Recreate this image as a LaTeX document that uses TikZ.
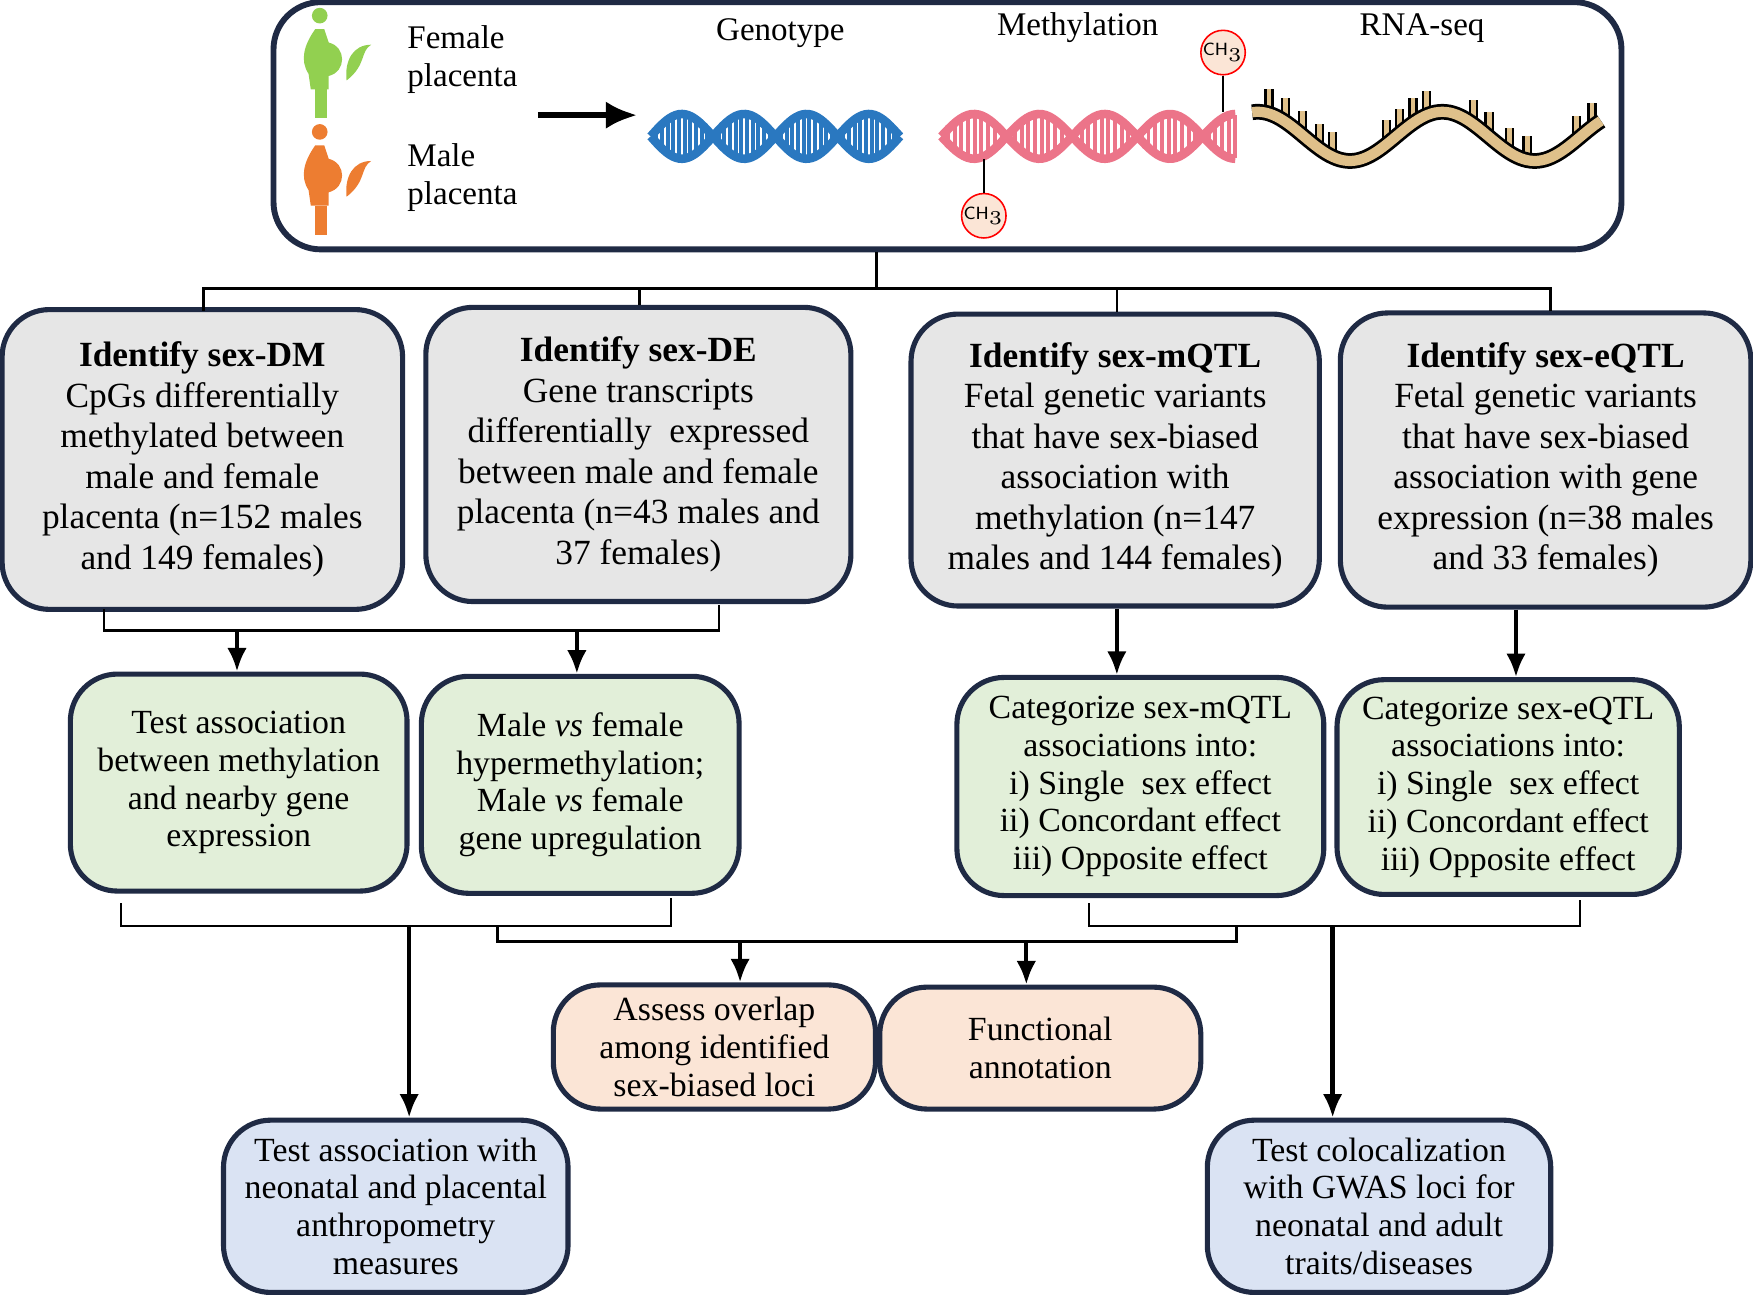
\documentclass[tikz,border=0pt]{standalone}
\usepackage{fontspec}
\setmainfont{Liberation Serif}
\usetikzlibrary{arrows.meta}
\definecolor{navy}{HTML}{1F2A44}
\definecolor{boxgray}{HTML}{E6E6E6}
\definecolor{boxgreen}{HTML}{E2EFD9}
\definecolor{boxorange}{HTML}{FBE5D6}
\definecolor{boxblue}{HTML}{DAE3F3}
\definecolor{dnablue}{HTML}{2A78C0}
\definecolor{dnapink}{HTML}{EC7489}
\definecolor{rnatan}{HTML}{DFC08A}
\definecolor{femgreen}{HTML}{92D050}
\definecolor{malorange}{HTML}{ED7D31}
\tikzset{
  stage/.style={draw=navy, line width=1.3pt, rounded corners=12pt, align=center, inner sep=2pt},
  big/.style={stage, fill=boxgray, font=\fontsize{9}{10.3}\selectfont},
  mid/.style={stage, fill=boxgreen, font=\fontsize{8.6}{9.6}\selectfont},
  low/.style={stage, font=\fontsize{8.6}{9.6}\selectfont},
  label/.style={font=\fontsize{8.4}{9.6}\selectfont},
  link/.style={line width=0.6pt},
  go/.style={line width=1.1pt, -{Latex[length=6pt,width=5pt]}},
}
\newcommand{\helix}[5]{% x0, x1, y, colour, turns in degrees
  \foreach \k in {0,...,44}{
    \pgfmathsetmacro{\xx}{#1+(#2-#1)*\k/44}
    \pgfmathsetmacro{\yy}{19*sin(\k/44*#5)}
    \draw[#4, line width=1pt] (\xx,#3-\yy) -- (\xx,#3+\yy);
  }
  \draw[#4, line width=2.2pt, domain=#1:#2, samples=80] plot (\x,{#3+20*sin((\x-#1)/(#2-#1)*#5)});
  \draw[#4, line width=2.2pt, domain=#1:#2, samples=80] plot (\x,{#3-20*sin((\x-#1)/(#2-#1)*#5)});
}
\newcommand{\mother}[3]{% x, y, colour
  \fill[#3] (#1,#2+8) circle (7);
  \fill[#3] (#1-4,#2+20) .. controls (#1-14,#2+34) and (#1-18,#2+48) .. (#1-10,#2+60)
    -- (#1-8,#2+74) -- (#1+8,#2+74) -- (#1+8,#2+62)
    .. controls (#1+24,#2+58) and (#1+24,#2+36) .. (#1+8,#2+32) -- (#1+4,#2+20) -- cycle;
  \draw[#3, line width=3pt] (#1+1,#2+74) -- (#1+1,#2+100);
  \fill[#3] (#1+24,#2+66) .. controls (#1+42,#2+52) and (#1+36,#2+40) .. (#1+46,#2+34)
    .. controls (#1+30,#2+34) and (#1+22,#2+48) .. (#1+24,#2+66);
}
\begin{document}
\begin{tikzpicture}[x=0.01cm, y=-0.01cm]
\useasboundingbox (0,0) rectangle (1568,1158);

% data sources
\node[draw=navy, line width=1.5pt, rounded corners=12pt, minimum width=12.05cm, minimum height=2.21cm] (top) at (847.5,112.5) {};
\mother{286}{6}{femgreen}
\mother{286}{110}{malorange}
\node[label, align=left, anchor=west] (fem) at (352,53) {Female\\placenta};
\node[label, align=left, anchor=west] (mal) at (352,159) {Male\\placenta};
\node[label] (geno) at (698,30) {Genotype};
\node[label] (meth) at (964,25) {Methylation};
\node[label] (rna) at (1272,25) {RNA-seq};
\coordinate (in0) at (481,103);
\coordinate (in1) at (570,103);
\draw[line width=1.5pt, -{Latex[length=8pt,width=7pt]}] (in0) -- (in1);
\helix{582}{805}{122}{dnablue}{720}
\helix{842}{1105}{122}{dnapink}{810}
\node[circle, draw=red, fill=boxorange, inner sep=0pt, minimum size=0.35cm, font=\fontsize{4.5}{5}\sffamily] (ch1) at (880,193) {CH$_3$};
\node[circle, draw=red, fill=boxorange, inner sep=0pt, minimum size=0.35cm, font=\fontsize{4.5}{5}\sffamily] (ch2) at (1094,47) {CH$_3$};
\draw[link] (ch1) -- (880,142);
\draw[link] (ch2) -- (1094,100);
\foreach \xr in {1135,1150,1165,1180,1192,1240,1252,1264,1276,1318,1332,1350,1366,1410,1424}{
  \pgfmathsetmacro{\yr}{122-22*cos((\xr-1125)*2.18)}
  \draw[black, line width=2.4pt] (\xr,\yr) -- (\xr,\yr-22);
  \draw[rnatan, line width=1.2pt] (\xr,\yr) -- (\xr,\yr-22);
}
\draw[black, line width=4pt, domain=1120:1432, samples=100] plot (\x,{122-22*cos((\x-1125)*2.18)});
\draw[rnatan, line width=2.6pt, domain=1120:1432, samples=100] plot (\x,{122-22*cos((\x-1125)*2.18)});

% identification steps
\node[big, minimum width=3.58cm, minimum height=2.68cm] (dm) at (181,411) {\textbf{Identify sex-DM}\\CpGs differentially\\methylated between\\male and female\\placenta (n=152 males\\and 149 females)};
\node[big, minimum width=3.80cm, minimum height=2.63cm] (de) at (571,406.5) {\textbf{Identify sex-DE}\\Gene transcripts\\differentially\ \ expressed\\between male and female\\placenta (n=43 males and\\37 females)};
\node[big, minimum width=3.65cm, minimum height=2.61cm] (mq) at (997.5,411.5) {\textbf{Identify sex-mQTL}\\Fetal genetic variants\\that have sex-biased\\association with\\methylation (n=147\\males and 144 females)};
\node[big, minimum width=3.67cm, minimum height=2.63cm] (eq) at (1382.5,411.5) {\textbf{Identify sex-eQTL}\\Fetal genetic variants\\that have sex-biased\\association with gene\\expression (n=38 males\\and 33 females)};

\coordinate (t0) at (784,258);
\draw[link] (t0 |- top.south) -- (t0);
\draw[link] (182,278) |- (1387,258) -- (1387,278);
\draw[link] (572,258) -- (572,273);
\draw[link] (999,258) -- (999,279);

% follow-up steps
\node[mid, minimum width=3.01cm, minimum height=1.94cm] (ta) at (213.5,700) {Test association\\between methylation\\and nearby gene\\expression};
\node[mid, minimum width=2.84cm, minimum height=1.94cm] (mf) at (519,702) {Male \textit{vs} female\\hypermethylation;\\Male \textit{vs} female\\gene upregulation};
\node[mid, minimum width=3.28cm, minimum height=1.95cm] (cm) at (1020,703.5) {Categorize sex-mQTL\\associations into:\\i) Single\ \ sex effect\\ii) Concordant effect\\iii) Opposite effect};
\node[mid, minimum width=3.06cm, minimum height=1.92cm] (ce) at (1349,704) {Categorize sex-eQTL\\associations into:\\i) Single\ \ sex effect\\ii) Concordant effect\\iii) Opposite effect};

\draw[link] (93,545) |- (643,564) -- (643,541);
\draw[go] (212,564) -- (ta.north -| 212,0);
\draw[go] (516,564) -- (mf.north -| 516,0);
\draw[go] (mq.south -| 999,0) -- (cm.north -| 999,0);
\draw[go] (eq.south -| 1356,0) -- (ce.north -| 1356,0);

% summary steps
\node[low, fill=boxorange, minimum width=2.88cm, minimum height=1.11cm] (ov) at (639,936.5) {Assess overlap\\among identified\\sex-biased loci};
\node[low, fill=boxorange, minimum width=2.87cm, minimum height=1.09cm] (fa) at (930.5,937.5) {Functional\\annotation};
\node[low, fill=boxblue, minimum width=3.08cm, minimum height=1.54cm] (an) at (354,1079) {Test association with\\neonatal and placental\\anthropometry\\measures};
\node[low, fill=boxblue, minimum width=3.07cm, minimum height=1.54cm] (gw) at (1233.5,1079) {Test colocalization\\with GWAS loci for\\neonatal and adult\\traits/diseases};

\draw[link] (108,808) |- (600,828) -- (600,803);
\draw[link] (974,808) |- (1413,828) -- (1413,805);
\draw[link] (445,828) |- (1106,842) -- (1106,828);
\draw[go] (366,828) -- (an.north -| 366,0);
\draw[go] (1192,828) -- (gw.north -| 1192,0);
\draw[go] (662,842) -- (ov.north -| 662,0);
\draw[go] (918,842) -- (fa.north -| 918,0);
\end{tikzpicture}
\end{document}
